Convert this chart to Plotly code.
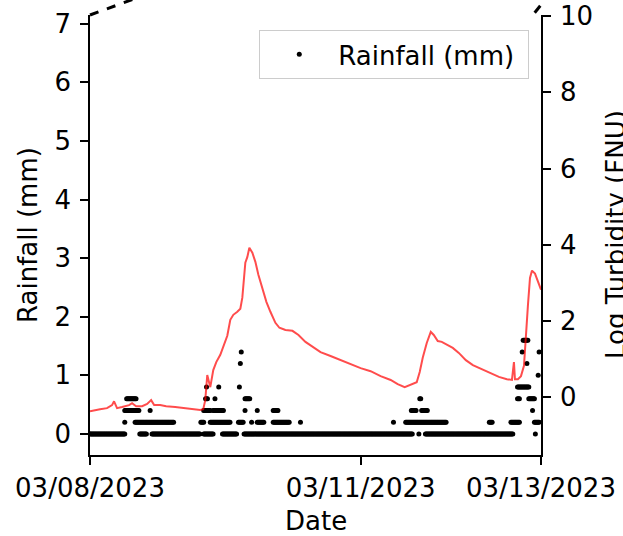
import numpy as np
import pandas as pd
import plotly.graph_objects as go

START = pd.Timestamp("2023-03-08 00:00")

# Rainfall readings (mm), 15-minute logger: runs of consecutive readings at one level
# (hours since 03/08 00:00, start and end of each run, rainfall in mm)
rain_run_start_h = [0, 13.25, 16.5, 30.25, 35.25, 41, 87.5, 89.25, 118.5,
                    9.25, 12, 29.5, 32, 39.5, 43, 44.5, 48.75, 56, 80.75, 84, 106.25, 112, 118.25,
                    9.25, 16, 30.25, 32.75, 41.25, 44.5, 48.75, 85.5, 88.25, 117.75,
                    9.75, 30.75, 33.25, 41.25, 87.75, 113.75, 116.75,
                    31, 34.25, 39.75, 113.75,
                    119.25,
                    40, 116.25,
                    40.25, 115, 119.5,
                    115.25]
rain_run_end_h = [9.25, 15, 29.25, 32.75, 39, 85.75, 87.5, 112.5, 118.5,
                  9.25, 22.25, 30.25, 37.25, 40.75, 43, 46.25, 53, 56, 80.75, 94.75, 107, 114.25, 119.5,
                  13, 16, 32, 35.5, 41.25, 44.5, 50, 86.75, 89.75, 117.75,
                  12.25, 31.25, 33.25, 42.5, 88, 114.25, 118.25,
                  31, 34.25, 39.75, 116.75,
                  119.25,
                  40, 116.25,
                  40.25, 115, 119.5,
                  116.5]
rain_run_mm = [0, 0, 0, 0, 0, 0, 0, 0, 0,
               0.2, 0.2, 0.2, 0.2, 0.2, 0.2, 0.2, 0.2, 0.2, 0.2, 0.2, 0.2, 0.2, 0.2,
               0.4, 0.4, 0.4, 0.4, 0.4, 0.4, 0.4, 0.4, 0.4, 0.4,
               0.6, 0.6, 0.6, 0.6, 0.6, 0.6, 0.6,
               0.8, 0.8, 0.8, 0.8,
               1.0,
               1.2, 1.2,
               1.4, 1.4, 1.4,
               1.6]

# Log turbidity (FNU): hours since 03/08 00:00 and value
turb_h = [0.0, 1.33, 2.67, 4.53, 5.87, 6.4, 7.2, 8.53, 10.4, 11.2, 12.27, 13.87, 15.2,
          16.27, 17.07, 18.67, 20.27, 22.67, 24.8, 27.2, 29.33, 30.13, 30.67, 31.2, 32.0,
          32.8, 33.6, 34.67, 35.73, 36.53, 37.33, 38.13, 39.2, 40.0, 40.53, 41.33, 41.87,
          42.4, 43.2, 44.0, 44.8, 45.87, 46.93, 48.0, 49.33, 50.4, 52.0, 53.87, 55.47,
          57.33, 59.2, 61.33, 64.0, 66.67, 69.33, 72.0, 74.67, 77.33, 80.0, 81.87, 83.73,
          85.33, 86.93, 87.73, 88.53, 89.6, 90.67, 91.47, 92.53, 93.6, 95.2, 96.53, 98.13,
          100.0, 101.87, 104.0, 106.4, 108.8, 110.93, 112.27, 112.8, 113.07, 113.87,
          114.67, 115.47, 116.0, 116.53, 117.07, 117.6, 118.4, 119.2, 120.0]
turb_log = [-0.37, -0.34, -0.32, -0.29, -0.21, -0.11, -0.29, -0.26, -0.21, -0.16, -0.24, -0.24, -0.18,
            -0.08, -0.21, -0.21, -0.24, -0.26, -0.29, -0.32, -0.34, -0.32, -0.08, 0.58, 0.26,
            0.71, 0.92, 1.11, 1.37, 1.61, 2.03, 2.16, 2.24, 2.32, 2.61, 3.53, 3.68,
            3.92, 3.79, 3.55, 3.21, 2.82, 2.5, 2.24, 1.95, 1.82, 1.76, 1.74, 1.63,
            1.45, 1.32, 1.18, 1.08, 0.97, 0.87, 0.76, 0.68, 0.55, 0.45, 0.34, 0.26,
            0.32, 0.39, 0.66, 1.03, 1.42, 1.71, 1.63, 1.47, 1.45, 1.37, 1.29, 1.16,
            0.97, 0.84, 0.74, 0.63, 0.53, 0.47, 0.45, 0.92, 0.47, 0.47,
            0.55, 0.82, 1.5, 2.42, 3.13, 3.32, 3.24, 3.05, 2.82]

# Axis ticks
date_tick_vals = ["2023-03-08", "2023-03-11", "2023-03-13"]
date_tick_text = ["03/08/2023", "03/11/2023", "03/13/2023"]
rain_ticks = [0, 1, 2, 3, 4, 5, 6, 7]
turb_ticks = [0, 2, 4, 6, 8, 10]

# Expand each run into its 15-minute readings
rain_h, rain_mm = [], []
for s, e, v in zip(rain_run_start_h, rain_run_end_h, rain_run_mm):
    hrs = np.arange(s, e + 1e-6, 0.25)
    rain_h.extend(hrs)
    rain_mm.extend([v] * len(hrs))

rain_t = START + pd.to_timedelta(rain_h, unit="h")
turb_t = START + pd.to_timedelta(turb_h, unit="h")

FONT = "DejaVu Sans"
FS = 26

fig = go.Figure()
fig.add_trace(go.Scatter(
    x=rain_t, y=rain_mm, mode="markers", name="Rainfall (mm)&nbsp;",
    marker=dict(color="black", size=5, line=dict(width=0)),
    yaxis="y",
))
fig.add_trace(go.Scatter(
    x=turb_t, y=turb_log, mode="lines", name="Log Turbidity (FNU)",
    line=dict(color="rgba(255,0,0,0.7)", width=2),
    yaxis="y2", showlegend=False,
))

axis_common = dict(
    showline=True, linecolor="black", linewidth=1.5,
    ticks="outside", ticklen=8, tickwidth=1.5, tickcolor="black",
    showgrid=False, zeroline=False, automargin=False,
    tickfont=dict(family=FONT, size=FS, color="black"),
)

fig.update_layout(
    width=623, height=536,
    margin=dict(l=90, r=82, t=15, b=81),
    paper_bgcolor="white", plot_bgcolor="white",
    font=dict(family=FONT, size=FS, color="black"),
    xaxis=dict(type="date", range=["2023-03-08", "2023-03-13"],
               tickvals=date_tick_vals, ticktext=date_tick_text,
               ticklabelstandoff=1, **axis_common),
    yaxis=dict(range=[-0.36, 7.15], tickvals=rain_ticks,
               ticklabelstandoff=4, **axis_common),
    yaxis2=dict(range=[-1.52, 10.03], tickvals=turb_ticks, overlaying="y",
                side="right", ticklabelstandoff=4, **axis_common),
    showlegend=True,
    legend=dict(x=0.974, y=0.966, xanchor="right", yanchor="top",
                bgcolor="rgba(255,255,255,0.8)", bordercolor="#cccccc",
                borderwidth=1, itemwidth=68,
                font=dict(family=FONT, size=FS, color="black")),
    annotations=[
        dict(text="Date", xref="paper", yref="paper", x=0.5, y=0,
             yshift=-66, xanchor="center", yanchor="middle", showarrow=False,
             font=dict(family=FONT, size=FS, color="black")),
        dict(text="Rainfall (mm)", xref="paper", yref="paper", x=0, y=0.5,
             xshift=-62, xanchor="center", yanchor="middle", textangle=-90,
             showarrow=False, font=dict(family=FONT, size=FS, color="black")),
        dict(text="Log Turbidity (FNU)", xref="paper", yref="paper", x=1, y=0.5,
             xshift=75, xanchor="center", yanchor="middle", textangle=-90,
             showarrow=False, font=dict(family=FONT, size=FS, color="black")),
    ],
    shapes=[
        dict(type="line", xref="paper", yref="paper", x0=0.0, y0=1.0,
             x1=0.12, y1=1.045, line=dict(color="black", width=3, dash="dash")),
        dict(type="line", xref="paper", yref="paper", x0=0.986, y0=1.005,
             x1=1.01, y1=1.036, line=dict(color="black", width=3, dash="dash")),
    ],
)

fig.write_html("out.html")
